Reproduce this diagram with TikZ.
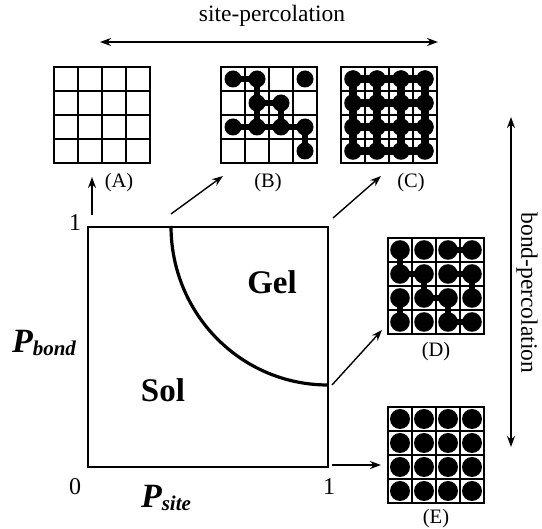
\documentclass[tikz,border=0pt]{standalone}
\usepackage{fontspec}
\setmainfont{Liberation Serif}
\usetikzlibrary{arrows.meta}
\begin{document}
\begin{tikzpicture}[x=1pt,y=-1pt,
  gridbox/.style={draw=black,line width=1.4pt,minimum size=96pt,inner sep=0pt,outer sep=0pt},
  gline/.style={line width=1.1pt},
  site/.style={fill=black},
  bond/.style={line width=5.5pt},
  fullbond/.style={line width=7.5pt},
  arr/.style={-{Stealth[length=11pt,width=8pt]},line width=1.4pt},
  darr/.style={{Stealth[length=11pt,width=8pt]}-{Stealth[length=11pt,width=8pt]},line width=1.4pt},
  lbl/.style={font=\fontsize{20.5}{22}\selectfont},
  axis/.style={font=\fontsize{24}{26}\selectfont},
  phase/.style={font=\fontsize{33}{36}\selectfont\bfseries}]
\useasboundingbox (0,0) rectangle (542,529);
% ---- grid helper
\newcommand{\latlines}{%
  \foreach \k in {24,48,72}{\draw[gline] (\k,0) -- (\k,96); \draw[gline] (0,\k) -- (96,\k);}}
\newcommand{\latsite}[3]{\fill[site] ({12+24*#2},{12+24*#1}) circle (#3);}
\newcommand{\hbond}[2]{\draw[bond] ({12+24*#2},{12+24*#1}) -- ({36+24*#2},{12+24*#1});}
\newcommand{\vbond}[2]{\draw[bond] ({12+24*#2},{12+24*#1}) -- ({12+24*#2},{36+24*#1});}
% ---- grid nodes
\node[gridbox] (A) at (102,115) {};
\node[gridbox] (B) at (269,115) {};
\node[gridbox] (C) at (389,115) {};
\node[gridbox] (D) at (436,286) {};
\node[gridbox] (E) at (436,455) {};
% A
\begin{scope}[shift={(54,67)}] \latlines \end{scope}
% B
\begin{scope}[shift={(221,67)}]
  \latlines
  \hbond{0}{0} \vbond{0}{1} \hbond{1}{1} \vbond{1}{1} \vbond{1}{2}
  \hbond{2}{0} \hbond{2}{1} \hbond{2}{2} \vbond{2}{3}
  \foreach \r/\c in {0/0,0/1,0/3,1/1,1/2,2/0,2/1,2/2,2/3,3/3}{\latsite{\r}{\c}{8.5pt}}
\end{scope}
% C
\begin{scope}[shift={(341,67)}]
  \latlines
  \foreach \r in {0,...,3}{\draw[fullbond] (12,{12+24*\r}) -- (84,{12+24*\r});
    \draw[fullbond] ({12+24*\r},12) -- ({12+24*\r},84);}
  \foreach \r in {0,...,3}{\foreach \c in {0,...,3}{\latsite{\r}{\c}{8.8pt}}}
\end{scope}
% D
\begin{scope}[shift={(388,238)}]
  \latlines
  \hbond{0}{2} \vbond{0}{0} \hbond{1}{0} \hbond{1}{2} \vbond{1}{1} \vbond{1}{3}
  \vbond{2}{0} \hbond{2}{1} \vbond{2}{2} \hbond{3}{2}
  \foreach \r in {0,...,3}{\foreach \c in {0,...,3}{\latsite{\r}{\c}{9.8pt}}}
\end{scope}
% E
\begin{scope}[shift={(388,407)}]
  \latlines
  \foreach \r in {0,...,3}{\foreach \c in {0,...,3}{\latsite{\r}{\c}{10pt}}}
\end{scope}
% labels
\node[lbl] (lA) at (119,183) {(A)};
\node[lbl] (lB) at (268,183) {(B)};
\node[lbl] (lC) at (411,183) {(C)};
\node[lbl] (lD) at (436,352) {(D)};
\node[lbl] (lE) at (436,519) {(E)};
% phase diagram
\node[draw=black,line width=1.2pt,minimum size=240pt,inner sep=0pt,outer sep=0pt] (P) at (208,347) {};
\coordinate (c0) at (171,226);
\coordinate (c1) at (328,385);
\draw[line width=3.2pt] (c0) .. controls (171,314) and (241,385) .. (c1);
\node[phase] (gel) at (272,282) {Gel};
\node[phase] (sol) at (163,390) {Sol};
\node[axis] (one1) at (75,223) {1};
\node[axis] (zero) at (75,487) {0};
\node[axis] (one2) at (329,487) {1};
\node[font=\fontsize{34}{36}\selectfont\bfseries\itshape] (pb) at (44,343) {P\raisebox{-0.25ex}{\fontsize{21}{22}\selectfont bond}};
\node[font=\fontsize{34}{36}\selectfont\bfseries\itshape] (ps) at (166,498) {P\raisebox{-0.25ex}{\fontsize{21}{22}\selectfont site}};
% arrows
\coordinate (a0) at (92,215); \coordinate (a1) at (92,177);
\coordinate (b0) at (171,214); \coordinate (b1) at (223,176);
\coordinate (k0) at (333,218); \coordinate (k1) at (381,176);
\coordinate (d0) at (332,385); \coordinate (d1) at (382,330);
\coordinate (e0) at (332,465); \coordinate (e1) at (381,465);
\draw[arr] (a0) -- (a1);
\draw[arr] (b0) -- (b1);
\draw[arr] (k0) -- (k1);
\draw[arr] (d0) -- (d1);
\draw[arr] (e0) -- (e1);
% percolation arrows
\coordinate (s0) at (100,42); \coordinate (s1) at (438,42);
\draw[darr] (s0) -- (s1);
\node[font=\fontsize{23.5}{26}\selectfont] (st) at (272,16) {site-percolation};
\coordinate (t0) at (511,117); \coordinate (t1) at (511,447);
\draw[darr] (t0) -- (t1);
\node[font=\fontsize{23.5}{26}\selectfont,rotate=-90] (bt) at (527,293) {bond-percolation};
\end{tikzpicture}
\end{document}
